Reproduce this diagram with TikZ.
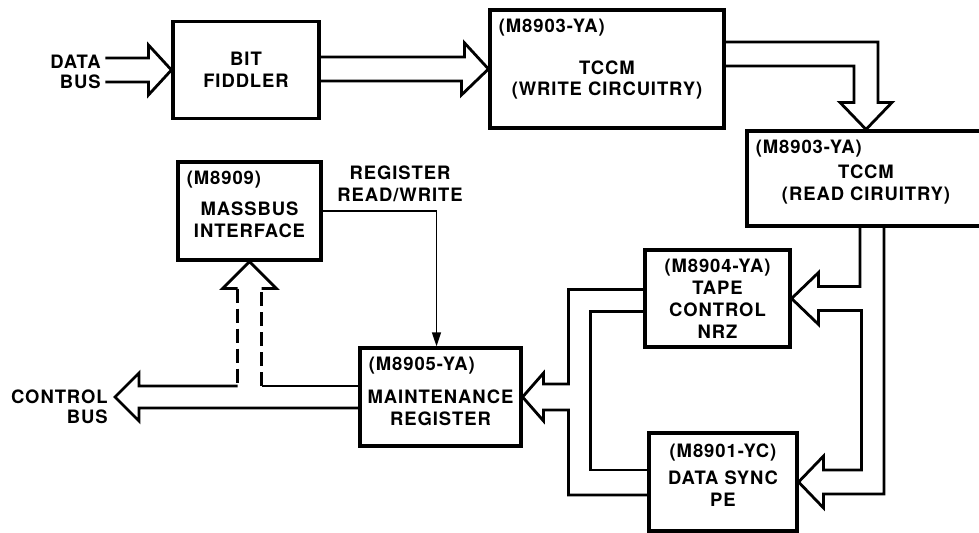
\documentclass[tikz,border=0pt]{standalone}
\usepackage{fontspec}
\setmainfont{TeX Gyre Heros}[LetterSpace=5]
\usetikzlibrary{arrows.meta,calc}

\begin{document}
\begin{tikzpicture}[
  x=0.02cm, y=-0.02cm,
  font=\bfseries\fontsize{10.5}{12.5}\selectfont,
  box/.style={draw, line width=1.8pt, inner sep=0pt, align=center},
  pn/.style={anchor=north west, inner xsep=0.2cm, inner ysep=0.2cm},
  main/.style={align=center, inner sep=0pt},
  side/.style={align=right, inner sep=0pt, font=\bfseries\fontsize{10.5}{11.5}\selectfont},
  bus/.style={line width=1.6pt, line join=miter},
  dbus/.style={dash pattern=on 0.28cm off 0.12cm},
  rw/.style={line width=1.1pt, -{Triangle[length=8pt,width=5pt]}}
]
\useasboundingbox (0,0) rectangle (979,533);
\clip (0,0) rectangle (979,533);

% --- boxes ---
\node[box, minimum width=2.92cm, minimum height=1.94cm] (bit) at (246,70) {BIT\\FIDDLER};
\node[box, minimum width=4.68cm, minimum height=2.36cm,
      label={[pn]north west:(M8903-YA)},
      label={[main, yshift=-0.22cm]center:TCCM\\(WRITE CIRCUITRY)}] (wr) at (607,69) {};
\node[box, minimum width=4.76cm, minimum height=1.9cm,
      label={[pn]north west:(M8903-YA)},
      label={[main, yshift=-0.12cm]center:TCCM\\(READ CIRUITRY)}] (rd) at (866,178.5) {};
\node[box, minimum width=2.86cm, minimum height=1.96cm,
      label={[pn]north west:(M8909)},
      label={[main, yshift=-0.17cm]center:MASSBUS\\INTERFACE}] (mb) at (249.5,211) {};
\node[box, minimum width=3.22cm, minimum height=1.96cm,
      label={[pn]north west:(M8905-YA)},
      label={[main, yshift=-0.21cm]center:MAINTENANCE\\REGISTER}] (mr) at (440.5,397) {};
\node[box, minimum width=2.9cm, minimum height=1.94cm] (tc) at (717.5,298.5) {(M8904-YA)\\TAPE\\CONTROL\\NRZ};
\node[box, minimum width=2.96cm, minimum height=1.96cm,
      label={[main, yshift=0.13cm]center:(M8901-YC)\\[3pt]DATA SYNC\\PE}] (ds) at (723,482) {};

% --- labels ---
\node[side, anchor=east] (databus) at (101,72) {DATA\\BUS};
\node[side, anchor=east] (ctlbus) at (108,407) {CONTROL\\BUS};
\node[main] (regrw) at (400,184) {REGISTER\\READ/WRITE};

% --- bus arrows ---
\draw[bus] ($(bit.west)+(-66,-12)$) -- ++(43,0) -- ++(0,-13) -- (bit.west) -- ++(-23,25) -- ++(0,-13) -- ++(-43,0);
\draw[bus] ($(bit.east)+(0,-13)$) -- ++(144,0) -- ++(0,-14) -- (wr.west) -- ++(-27,26) -- ++(0,-14) -- ++(-144,0);
\draw[bus] ($(wr.east)+(0,-27)$) -| ($(rd.north)+(12,-27)$) -- ++(14,0) -- (rd.north) -- ++(-26,-27) -- ++(14,0) |- ($(wr.east)+(0,-3)$);
\draw[bus] ($(rd.south)+(-6,0)$) |- ($(tc.east)+(27,-12)$) -- ++(0,-14) -- (tc.east) -- ++(27,26) -- ++(0,-14)
  -| ($(ds.east)+(63,-12)$) -- ++(-38,0) -- ++(0,-14) -- (ds.east) -- ++(25,26) -- ++(0,-14) -| ($(rd.south)+(18,0)$);
\draw[bus] ($(tc.west)+(0,-9)$) -| ($(mr.east)+(46,-13)$) -- ++(-25,0) -- ++(0,-11) -- (mr.east) -- ++(21,24) -- ++(0,-11) -- ++(25,0) |- ($(ds.west)+(0,13)$);
\draw[bus] ($(tc.west)+(0,13)$) -- ++(-53,0) |- ($(ds.west)+(0,-12)$);

% control bus / massbus
\coordinate (ctip) at (115,397);
\coordinate (mbl) at ($(mb.south)+(-12,27)$);
\coordinate (mbr) at ($(mb.south)+(12,27)$);
\coordinate (mru) at ($(mr.west)+(0,-11)$);
\coordinate (mrd) at ($(mr.west)+(0,11)$);
\draw[bus] (mru) -- (mru -| mbr);
\draw[bus, dbus] (mru -| mbr) -- (mbr);
\draw[bus] (mbr) -- ++(15,0) -- (mb.south) -- ++(-27,27) -- ++(15,0);
\draw[bus, dbus] (mbl) -- (mbl |- mru);
\draw[bus] (mbl |- mru) -- ($(ctip)+(24,-11)$) -- ++(0,-13) -- (ctip) -- ++(24,24) -- ++(0,-13) -- (mrd);

% register read/write
\draw[rw] (mb.east) -| ($(mr.north)+(-4,0)$);

\end{tikzpicture}
\end{document}
